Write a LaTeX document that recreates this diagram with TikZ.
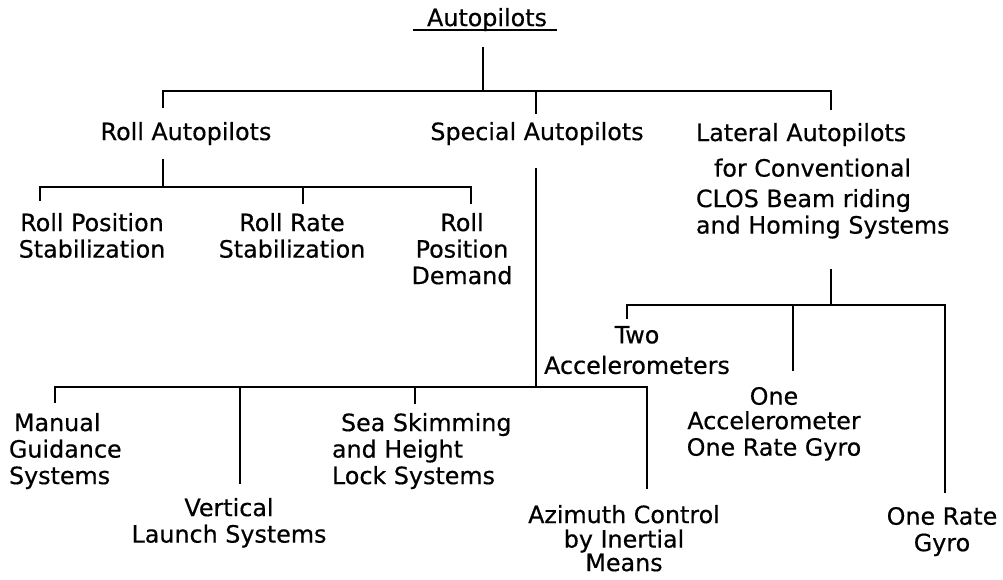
\documentclass[tikz,border=0pt]{standalone}
\usepackage{fontspec}
\setmainfont{DejaVu Sans}[FakeBold=0.5]
\begin{document}
\begin{tikzpicture}[x=1pt,y=-1pt,
  every node/.style={inner sep=0pt,outer sep=0pt,font=\fontsize{23.8}{26.5}\selectfont},
  lab/.style={anchor=north,align=center},
  labl/.style={anchor=north west,align=left},
  wire/.style={line width=2.3pt,line cap=rect}]
\useasboundingbox (0,0) rectangle (1003,579);
% nodes
\node[lab] (root) at (487,8) {Autopilots};
\node[lab] (roll) at (186,122) {Roll Autopilots};
\node[lab] (spec) at (537,122) {Special Autopilots};
\node[labl] (lat) at (696,123) {Lateral Autopilots\\[9pt]\hspace*{18pt}for Conventional\\[4pt]CLOS Beam riding\\and Homing Systems};
\node[lab] (rps) at (92,213) {Roll Position\\Stabilization};
\node[lab] (rrs) at (292,213) {Roll Rate\\Stabilization};
\node[lab] (rpd) at (462,213) {Roll\\Position\\Demand};
\node[labl] (mgs) at (9,413) {\hspace*{5pt}Manual\\Guidance\\Systems};
\node[lab] (vls) at (229,498) {Vertical\\Launch Systems};
\node[labl] (sea) at (332,413) {\hspace*{9pt}Sea Skimming\\and Height\\Lock Systems};
\node[lab] (azi) at (624,505) {Azimuth Control\\[-2pt]by Inertial\\[-3pt]Means};
\node[lab] (two) at (637,326) {Two\\[4pt]Accelerometers};
\node[lab] (oao) at (774,387) {One\\[-2pt]Accelerometer\\One Rate Gyro};
\node[lab] (org) at (942,507) {One Rate\\Gyro};
% underline of title
\draw[line width=1.8pt] ([xshift=-14pt,yshift=1pt]root.south west) -- ([xshift=10pt,yshift=1pt]root.south east);
% junctions
\coordinate (jroot) at (483,91);
\coordinate (jroll) at (163,91);
\coordinate (jspec) at (536,91);
\coordinate (jlat) at (831,91);
\coordinate (kroll) at (163,187);
\coordinate (krps) at (40,187);
\coordinate (krrs) at (303,187);
\coordinate (krpd) at (471,187);
\coordinate (kspec) at (536,387);
\coordinate (kmgs) at (55,387);
\coordinate (kvls) at (240,387);
\coordinate (ksea) at (415,387);
\coordinate (kazi) at (647,387);
\coordinate (klat) at (831,305);
\coordinate (ktwo) at (627,305);
\coordinate (koao) at (793,305);
\coordinate (korg) at (945,305);
% root level
\draw[wire,shorten <=17pt] (jroot |- root.south) -- (jroot);
\draw[wire] (jroll) -- (jlat);
\draw[wire,shorten >=15pt] (jroll) -- (jroll |- roll.north);
\draw[wire,shorten >=9pt] (jspec) -- (jspec |- spec.north);
\draw[wire,shorten >=14pt] (jlat) -- (jlat |- lat.north);
% roll
\draw[wire,shorten <=15pt] (kroll |- roll.south) -- (kroll);
\draw[wire] (krps) -- (krpd);
\draw[wire,shorten >=13pt] (krps) -- (krps |- rps.north);
\draw[wire,shorten >=10pt] (krrs) -- (krrs |- rrs.north);
\draw[wire,shorten >=10pt] (krpd) -- (krpd |- rpd.north);
% special
\draw[wire,shorten <=24pt] (kspec |- spec.south) -- (kspec);
\draw[wire] (kmgs) -- (kazi);
\draw[wire,shorten >=11pt] (kmgs) -- (kmgs |- mgs.north);
\draw[wire,shorten >=15pt] (kvls) -- (kvls |- vls.north);
\draw[wire,shorten >=10pt] (ksea) -- (ksea |- sea.north);
\draw[wire,shorten >=17pt] (kazi) -- (kazi |- azi.north);
% lateral
\draw[wire,shorten <=32pt] (klat |- lat.south) -- (klat);
\draw[wire] (ktwo) -- (korg);
\draw[wire,shorten >=8pt] (ktwo) -- (ktwo |- two.north);
\draw[wire,shorten >=17pt] (koao) -- (koao |- oao.north);
\draw[wire,shorten >=15pt] (korg) -- (korg |- org.north);
\end{tikzpicture}
\end{document}
